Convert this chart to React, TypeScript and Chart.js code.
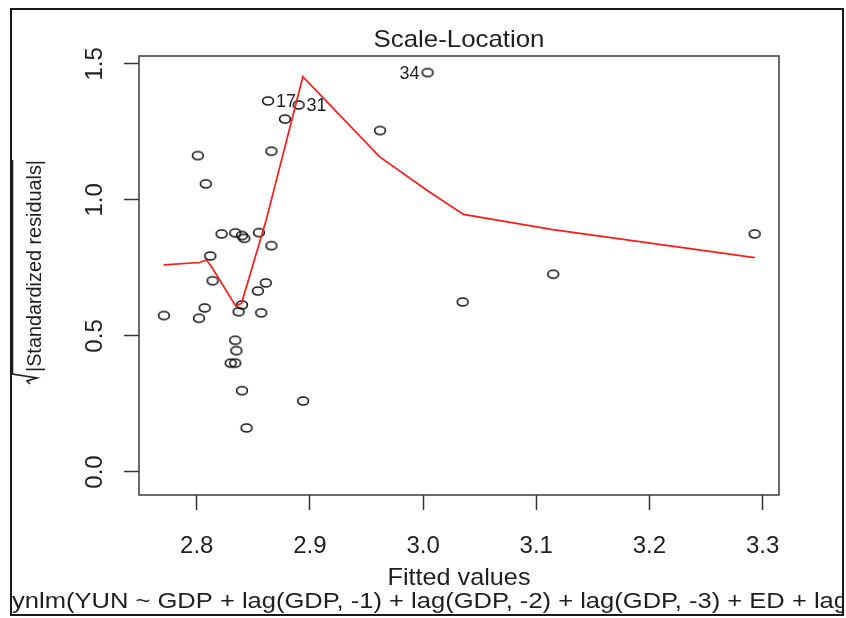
import React, { useEffect, useRef } from "react";
import { Chart, registerables } from "chart.js";

Chart.register(...registerables);

// ---- data ----
const fittedValues = [
  2.771, 2.801, 2.808, 2.812, 2.814, 2.807, 2.802, 2.822, 2.834, 2.840, 2.842, 2.855,
  2.866, 2.861, 2.854, 2.840, 2.837, 2.857, 2.834, 2.835, 2.830, 2.834, 2.840, 2.894,
  2.844, 2.866, 2.878, 2.863, 2.890, 3.004, 2.962, 3.035, 3.115, 3.293,
];
const sqrtAbsStdResiduals = [
  0.575, 1.163, 1.059, 0.794, 0.703, 0.603, 0.565, 0.875, 0.879, 0.869, 0.859, 0.880,
  0.832, 0.695, 0.665, 0.614, 0.589, 0.585, 0.484, 0.446, 0.400, 0.400, 0.299, 0.261,
  0.162, 1.179, 1.297, 1.364, 1.349, 1.468, 1.255, 0.625, 0.727, 0.875,
];
const labeledIndex = [27, 28, 29];
const labeledText = ["17", "31", "34"];
const labeledSide = ["right", "right", "left"];

const smoothFitted = [
  2.7707, 2.8026, 2.8085, 2.8130, 2.8344, 2.8396, 2.8614, 2.8938, 2.9617, 3.0044,
  3.0357, 3.1148, 3.2931,
];
const smoothValues = [
  0.761, 0.770, 0.779, 0.755, 0.610, 0.620, 0.926, 1.453, 1.158, 1.033, 0.947, 0.891,
  0.788,
];

const xTickValues = [2.8, 2.9, 3.0, 3.1, 3.2, 3.3];
const xTickLabels = ["2.8", "2.9", "3.0", "3.1", "3.2", "3.3"];
const yTickValues = [0, 0.5, 1.0, 1.5];
const yTickLabels = ["0.0", "0.5", "1.0", "1.5"];
const xRange = [2.749, 3.3145];
const yRange = [-0.0846, 1.529];

const titleText = "Scale-Location";
const xTitleText = "Fitted values";
const yTitleText = "|Standardized residuals|";
const subTitleText =
  "ynlm(YUN ~ GDP + lag(GDP, -1) + lag(GDP, -2) + lag(GDP, -3) + ED + lag";

const FONT = "'Liberation Sans', Arial, sans-serif";
const INK = "#1e1e24";

function fittedText(
  ctx: CanvasRenderingContext2D,
  text: string,
  x: number,
  y: number,
  size: number,
  targetWidth: number,
  align: CanvasTextAlign,
  rotate = 0
) {
  ctx.save();
  ctx.font = `${size}px ${FONT}`;
  const w = ctx.measureText(text).width;
  ctx.translate(x, y);
  if (rotate) ctx.rotate(rotate);
  ctx.scale(targetWidth / w, 1);
  ctx.textAlign = align;
  ctx.textBaseline = "alphabetic";
  ctx.fillStyle = INK;
  ctx.fillText(text, 0, 0);
  ctx.restore();
}

const decorPlugin = {
  id: "decor",
  beforeDraw(chart: any) {
    const ctx = chart.ctx as CanvasRenderingContext2D;
    ctx.save();
    ctx.fillStyle = "#ffffff";
    ctx.fillRect(0, 0, chart.width, chart.height);
    ctx.restore();
  },
  afterDatasetsDraw(chart: any) {
    const ctx = chart.ctx as CanvasRenderingContext2D;
    const meta = chart.getDatasetMeta(1);
    ctx.save();
    ctx.font = `18px ${FONT}`;
    ctx.fillStyle = INK;
    ctx.textBaseline = "middle";
    labeledIndex.forEach((idx, i) => {
      const el = meta.data[idx];
      if (!el) return;
      const right = labeledSide[i] === "right";
      ctx.textAlign = right ? "left" : "right";
      ctx.fillText(labeledText[i], el.x + (right ? 8 : -8), el.y + 1);
    });
    ctx.restore();
  },
  afterDraw(chart: any) {
    const ctx = chart.ctx as CanvasRenderingContext2D;
    const a = chart.chartArea;
    const cx = (a.left + a.right) / 2;
    ctx.save();
    // plot box
    ctx.strokeStyle = "#3a3a3a";
    ctx.lineWidth = 1.5;
    ctx.strokeRect(a.left, a.top, a.right - a.left, a.bottom - a.top);
    // outer frame
    ctx.strokeStyle = "#1a1a1a";
    ctx.lineWidth = 2;
    ctx.strokeRect(11, 9, 832, 606);
    ctx.restore();

    fittedText(ctx, titleText, cx, 47, 24, 171, "center");
    fittedText(ctx, xTitleText, cx, 585, 24, 143, "center");

    // subtitle clipped by the frame
    ctx.save();
    ctx.beginPath();
    ctx.rect(12, 10, 830, 604);
    ctx.clip();
    fittedText(ctx, subTitleText, 12, 608, 22, 836, "left");
    ctx.restore();

    // y-axis label with radical sign
    fittedText(ctx, yTitleText, 41, 266, 21, 212, "center", -Math.PI / 2);
    ctx.save();
    ctx.strokeStyle = INK;
    ctx.lineWidth = 1.6;
    ctx.beginPath();
    ctx.moveTo(12.5, 160);
    ctx.lineTo(12.5, 374);
    ctx.lineTo(37, 378);
    ctx.lineTo(27, 381);
    ctx.lineTo(30, 384);
    ctx.stroke();
    ctx.restore();
  },
};

function makeRing(): HTMLCanvasElement {
  const c = document.createElement("canvas");
  c.width = 16;
  c.height = 12;
  const g = c.getContext("2d")!;
  g.strokeStyle = "#141414";
  g.lineWidth = 1.6;
  g.beginPath();
  g.ellipse(8, 6, 5.4, 4.0, 0, 0, Math.PI * 2);
  g.stroke();
  return c;
}

export default function App() {
  const ref = useRef<HTMLCanvasElement | null>(null);

  useEffect(() => {
    if (!ref.current) return;
    const ring = makeRing();
    const chart = new Chart(ref.current, {
      type: "scatter",
      data: {
        datasets: [
          {
            type: "line",
            data: smoothFitted.map((x, i) => ({ x, y: smoothValues[i] })),
            borderColor: "#ff1a1a",
            borderWidth: 1.7,
            pointRadius: 0,
            tension: 0,
            fill: false,
          } as any,
          {
            type: "scatter",
            data: fittedValues.map((x, i) => ({ x, y: sqrtAbsStdResiduals[i] })),
            pointStyle: ring as any,
            pointRadius: 6,
          },
        ],
      },
      options: {
        animation: false,
        responsive: false,
        devicePixelRatio: 1,
        events: [],
        layout: { padding: { left: 0, top: 56, right: 67, bottom: 0 } },
        plugins: {
          legend: { display: false },
          title: { display: false },
          tooltip: { enabled: false },
        },
        scales: {
          x: {
            type: "linear",
            min: xRange[0],
            max: xRange[1],
            afterFit: (s: any) => {
              s.height = 123;
            },
            afterBuildTicks: (s: any) => {
              s.ticks = xTickValues.map((value) => ({ value }));
            },
            grid: {
              display: true,
              drawOnChartArea: false,
              drawTicks: true,
              tickLength: 15,
              tickColor: "#333",
              tickWidth: 1.5,
            },
            border: { display: false },
            ticks: {
              callback: (_v: any, i: number) => xTickLabels[i],
              font: { family: FONT, size: 24 },
              color: INK,
              padding: 22,
              maxRotation: 0,
              autoSkip: false,
            },
          },
          y: {
            type: "linear",
            min: yRange[0],
            max: yRange[1],
            afterFit: (s: any) => {
              s.width = 139;
            },
            afterBuildTicks: (s: any) => {
              s.ticks = yTickValues.map((value) => ({ value }));
            },
            grid: {
              display: true,
              drawOnChartArea: false,
              drawTicks: true,
              tickLength: 15,
              tickColor: "#333",
              tickWidth: 1.5,
            },
            border: { display: false },
            ticks: {
              callback: (_v: any, i: number) => yTickLabels[i],
              font: { family: FONT, size: 24 },
              color: INK,
              padding: 12,
              minRotation: 90,
              maxRotation: 90,
              crossAlign: "center",
              autoSkip: false,
            },
          },
        },
      },
      plugins: [decorPlugin],
    });
    return () => chart.destroy();
  }, []);

  return (
    <div style={{ position: "fixed", left: 0, top: 0, width: 846, height: 618, background: "#fff" }}>
      <canvas ref={ref} width={846} height={618} style={{ display: "block" }} />
    </div>
  );
}
